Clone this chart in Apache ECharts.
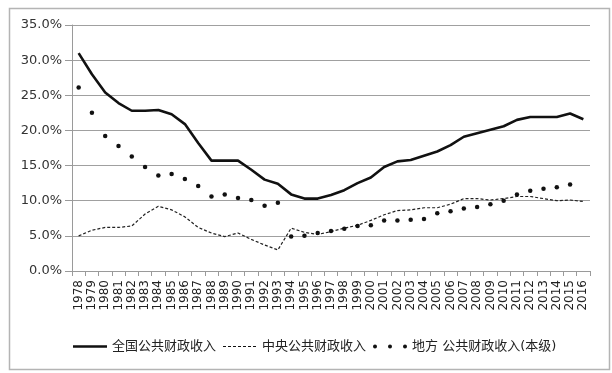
<!DOCTYPE html>
<html>
<head>
<meta charset="utf-8">
<script src="https://cdn.jsdelivr.net/npm/echarts@6/dist/echarts.min.js"></script>
<style>
html,body{margin:0;padding:0;background:#fff;}
#c{width:612px;height:373px;}
</style>
</head>
<body>
<div id="c"></div>
<script>
var years = ['1978','1979','1980','1981','1982','1983','1984','1985','1986','1987','1988','1989','1990','1991','1992','1993','1994','1995','1996','1997','1998','1999','2000','2001','2002','2003','2004','2005','2006','2007','2008','2009','2010','2011','2012','2013','2014','2015','2016'];
var seriesNames = ['全国公共财政收入', '中央公共财政收入', '地方 公共财政收入(本级)'];
var totalRevenue = [31.0,28.0,25.4,23.9,22.8,22.8,22.9,22.3,20.9,18.2,15.7,15.7,15.7,14.4,13.0,12.4,10.9,10.3,10.3,10.8,11.5,12.5,13.3,14.8,15.6,15.8,16.4,17.0,17.9,19.1,19.6,20.1,20.6,21.5,21.9,21.9,21.9,22.4,21.6];
var centralRevenue = [5.0,5.8,6.2,6.2,6.4,8.1,9.2,8.7,7.7,6.2,5.4,4.9,5.4,4.5,3.7,3.0,6.1,5.5,5.2,5.6,6.1,6.5,7.2,8.0,8.6,8.7,9.0,9.0,9.5,10.3,10.3,10.1,10.3,10.6,10.6,10.3,10.0,10.1,9.9];
var localRevenue = [26.1,22.5,19.2,17.8,16.3,14.8,13.6,13.8,13.1,12.1,10.6,10.9,10.4,10.1,9.3,9.7,4.9,5.0,5.4,5.7,6.0,6.4,6.5,7.2,7.2,7.3,7.4,8.2,8.5,8.9,9.1,9.5,10.0,10.9,11.4,11.7,11.9,12.3,null];
var yTicks = [0,5,10,15,20,25,30,35];

var chart = echarts.init(document.getElementById('c'), null, {renderer:'canvas'});
var font = 'DejaVu Sans, "Noto Sans CJK SC", sans-serif';
// legend icon shapes (bbox 34 x 4)
var iconSolid = 'path://M0,0L0.01,0L0,0.01ZM0,0.7H34V3.3H0ZM0,4L0.01,4L0,3.99Z';
var iconDash = 'path://M0,0L0.01,0L0,0.01Z' +
  'M0,1.4H3V2.6H0ZM5,1.4H8V2.6H5ZM10,1.4H13V2.6H10ZM15,1.4H18V2.6H15ZM20,1.4H23V2.6H20ZM25,1.4H28V2.6H25ZM30,1.4H33V2.6H30Z' +
  'M34,4L33.99,4L34,3.99Z';
var iconDots = 'path://M0,2a2,2 0 1,0 4,0a2,2 0 1,0 -4,0zM15,2a2,2 0 1,0 4,0a2,2 0 1,0 -4,0zM30,2a2,2 0 1,0 4,0a2,2 0 1,0 -4,0z';
chart.setOption({
  animation: false,
  backgroundColor: '#fff',
  graphic: [{
    type: 'rect', left: 7, top: 6, z: -1,
    shape: {width: 600, height: 361},
    style: {fill: 'none', stroke: '#b4b4b4', lineWidth: 1.5}
  }],
  grid: {left: 72, right: 22, top: 25, bottom: 102, containLabel: false},
  xAxis: {
    type: 'category',
    data: years,
    boundaryGap: true,
    axisLine: {show: true, lineStyle: {color: '#9a9a9a', width: 1}},
    axisTick: {show: true, length: 5, interval: 0, lineStyle: {color: '#9a9a9a'}},
    axisLabel: {interval: 0, rotate: 90, margin: 9, fontSize: 12, color: '#222', fontFamily: font}
  },
  yAxis: {
    type: 'value',
    min: yTicks[0], max: yTicks[yTicks.length-1], interval: 5,
    axisLine: {show: true, lineStyle: {color: '#9a9a9a', width: 1}},
    axisTick: {show: true, length: 7, inside: false, lineStyle: {color: '#9a9a9a'}},
    splitLine: {show: true, lineStyle: {color: '#a0a0a0', width: 1}},
    axisLabel: {margin: 10, fontSize: 13, color: '#333', fontFamily: font,
      formatter: function(v){ return v.toFixed(1) + '%'; }}
  },
  legend: {
    left: 68, top: 335,
    itemWidth: 34, itemHeight: 4, itemGap: 7,
    textStyle: {fontSize: 13, color: '#222', fontFamily: font},
    itemStyle: {color: '#111', borderWidth: 0},
    data: [
      {name: seriesNames[0], icon: iconSolid},
      {name: seriesNames[1], icon: iconDash},
      {name: seriesNames[2], icon: iconDots}
    ]
  },
  series: [
    {
      name: seriesNames[0], type: 'line', data: totalRevenue,
      symbol: 'none', color: '#111',
      lineStyle: {color: '#111', width: 2.6}
    },
    {
      name: seriesNames[1], type: 'line', data: centralRevenue,
      symbol: 'none', color: '#222',
      lineStyle: {color: '#222', width: 1.2, type: [3, 2]}
    },
    {
      name: seriesNames[2], type: 'line', data: localRevenue,
      symbol: 'circle', symbolSize: 4.5, showSymbol: true, color: '#111',
      itemStyle: {color: '#111'},
      lineStyle: {width: 0, opacity: 0}
    }
  ]
});
</script>
</body>
</html>
